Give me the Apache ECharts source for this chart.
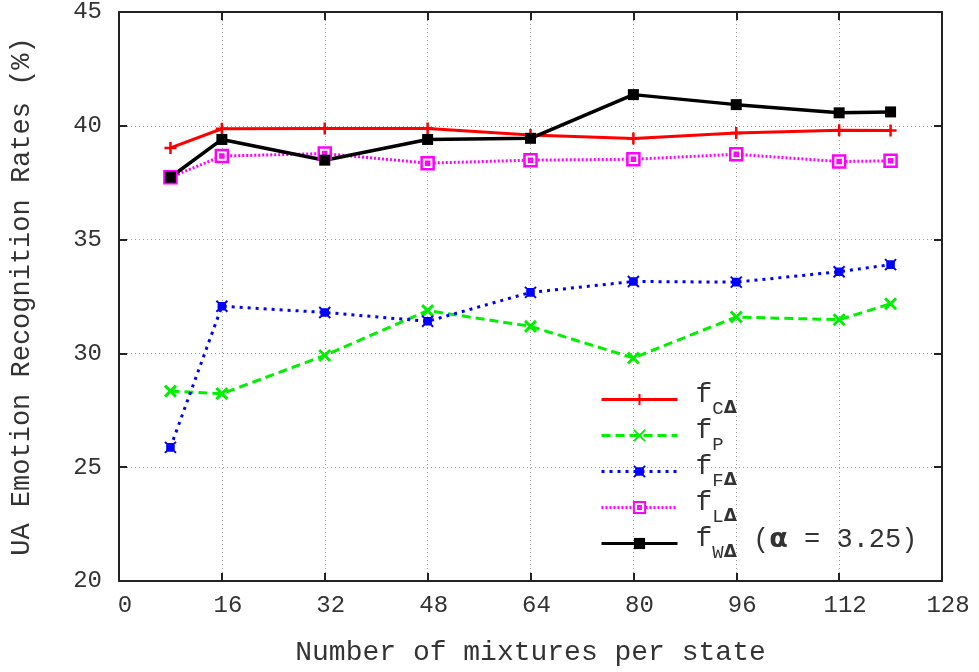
<!DOCTYPE html>
<html>
<head>
<meta charset="utf-8">
<script src="https://cdn.jsdelivr.net/npm/echarts@6/dist/echarts.min.js"></script>
<style>html,body{margin:0;padding:0;background:#fff}#c{width:979px;height:672px}</style>
</head>
<body>
<div id="c"></div>
<script>
const mixtures = [8, 16, 32, 48, 64, 80, 96, 112, 120];
const fC = [39.03, 39.87, 39.88, 39.88, 39.6, 39.44, 39.68, 39.8, 39.79];
const fP = [28.34, 28.23, 29.91, 31.88, 31.19, 29.8, 31.6, 31.48, 32.18];
const fF = [25.87, 32.07, 31.8, 31.41, 32.68, 33.16, 33.13, 33.59, 33.9];
const fL = [37.74, 38.67, 38.78, 38.36, 38.49, 38.53, 38.75, 38.43, 38.46];
const fW = [37.74, 39.4, 38.49, 39.4, 39.45, 41.37, 40.93, 40.57, 40.61];
const xTicks = [0, 16, 32, 48, 64, 80, 96, 112, 128];
const yTicks = [20, 25, 30, 35, 40, 45];

const FONT = 'Liberation Mono';
const pair = (ys) => mixtures.map((x, i) => [x, ys[i]]);

const legendText = {
  'fCΔ': '{f|f}{s|C}{d|Δ}',
  'fP': '{f|f}{s|P}',
  'fFΔ': '{f|f}{s|F}{d|Δ}',
  'fLΔ': '{f|f}{s|L}{d|Δ}',
  'fWΔ': '{f|f}{s|W}{d|Δ}{t| (}{a|α}{t| = 3.25)}'
};

const chart = echarts.init(document.getElementById('c'));
const baseX = { type: 'value', min: 0, max: 128, interval: 16 };
const baseY = { type: 'value', min: 20, max: 45, interval: 5 };
const axLine = { show: true, onZero: false, lineStyle: { color: '#222', width: 2 } };
const axTick = { show: true, inside: true, length: 8, lineStyle: { color: '#222', width: 2 } };

chart.setOption({
  animation: false,
  backgroundColor: '#fff',
  grid: { left: 115, right: 37, top: 11, bottom: 88, containLabel: false },
  xAxis: [
    Object.assign({}, baseX, {
      position: 'bottom',
      axisLine: axLine, axisTick: axTick,
      axisLabel: { color: '#333', fontFamily: FONT, fontSize: 24, margin: 13, padding: [0, 0, 0, 12],
        customValues: xTicks },
      splitLine: { show: true, lineStyle: { color: '#999', width: 1, type: [1, 3] } },
      name: 'Number of mixtures per state', nameLocation: 'middle', nameGap: 58,
      nameTextStyle: { color: '#333', fontFamily: FONT, fontSize: 28 }
    }),
    Object.assign({}, baseX, {
      position: 'top',
      axisLine: axLine, axisTick: axTick,
      axisLabel: { show: false }, splitLine: { show: false }
    })
  ],
  yAxis: [
    Object.assign({}, baseY, {
      position: 'left',
      axisLine: axLine, axisTick: axTick,
      axisLabel: { color: '#333', fontFamily: FONT, fontSize: 24, margin: 17, customValues: yTicks },
      splitLine: { show: true, lineStyle: { color: '#999', width: 1, type: [1, 3] } },
      name: 'UA Emotion Recognition Rates (%)', nameLocation: 'middle', nameGap: 84, nameRotate: 90,
      nameTextStyle: { color: '#333', fontFamily: FONT, fontSize: 27 }
    }),
    Object.assign({}, baseY, {
      position: 'right',
      axisLine: axLine, axisTick: axTick,
      axisLabel: { show: false }, splitLine: { show: false }
    })
  ],
  legend: {
    orient: 'vertical', left: 595, top: 376, itemWidth: 76, itemHeight: 14, itemGap: -1,
    selectedMode: false,
    lineStyle: { width: 3 },
    formatter: (n) => legendText[n],
    textStyle: {
      color: '#333', fontFamily: FONT,
      rich: {
        f: { fontFamily: FONT, fontSize: 28, color: '#333', padding: [0, 0, 9, 13], verticalAlign: 'bottom' },
        s: { fontFamily: FONT, fontSize: 19, color: '#333', verticalAlign: 'bottom' },
        d: { fontFamily: 'DejaVu Sans', fontWeight: 'bold', fontSize: 17, color: '#333', verticalAlign: 'bottom', padding: [0, 0, 1, 0] },
        t: { fontFamily: FONT, fontSize: 27, color: '#333', padding: [0, 0, 9, 0], verticalAlign: 'bottom' },
        a: { fontFamily: 'DejaVu Sans', fontWeight: 'bold', fontSize: 27, color: '#333', padding: [0, 0, 9, 0], verticalAlign: 'bottom' }
      }
    }
  },
  series: [
    {
      name: 'fCΔ', type: 'line', data: pair(fC), xAxisIndex: 0, yAxisIndex: 0,
      symbol: 'path://M0,-1L0,1M-1,0L1,0', symbolSize: 12,
      lineStyle: { color: '#ff0000', width: 3, type: 'solid' },
      itemStyle: { color: '#ff0000', borderColor: '#ff0000', borderWidth: 2.5 }
    },
    {
      name: 'fP', type: 'line', data: pair(fP), xAxisIndex: 0, yAxisIndex: 0,
      symbol: 'path://M-1,-1L1,1M-1,1L1,-1', symbolSize: 11,
      lineStyle: { color: '#00f000', width: 3, type: [9, 5] },
      itemStyle: { color: '#00f000', borderColor: '#00f000', borderWidth: 3 }
    },
    {
      name: 'fFΔ', type: 'line', data: pair(fF), xAxisIndex: 0, yAxisIndex: 0,
      symbol: 'path://M-0.6,-0.6L0.6,-0.6L0.6,0.6L-0.6,0.6Z M-1,-1L1,1 M-1,1L1,-1', symbolSize: 11,
      lineStyle: { color: '#0000ff', width: 3, type: [3, 5] },
      itemStyle: { color: '#0000ff', borderColor: '#0000ff', borderWidth: 2 }
    },
    {
      name: 'fLΔ', type: 'line', data: pair(fL), xAxisIndex: 0, yAxisIndex: 0,
      symbol: 'path://M-1,-1L1,-1L1,1L-1,1Z M-0.25,-0.25L0.25,-0.25L0.25,0.25L-0.25,0.25Z', symbolSize: 12,
      lineStyle: { color: '#ff00ff', width: 3, type: [2, 2] },
      itemStyle: { color: '#ffffff', borderColor: '#ff00ff', borderWidth: 2.5 }
    },
    {
      name: 'fWΔ', type: 'line', data: pair(fW), xAxisIndex: 0, yAxisIndex: 0,
      symbol: 'rect', symbolSize: 11,
      lineStyle: { color: '#000000', width: 3.5, type: 'solid' },
      itemStyle: { color: '#000000', borderColor: '#000000', borderWidth: 0 }
    }
  ]
});
</script>
</body>
</html>
